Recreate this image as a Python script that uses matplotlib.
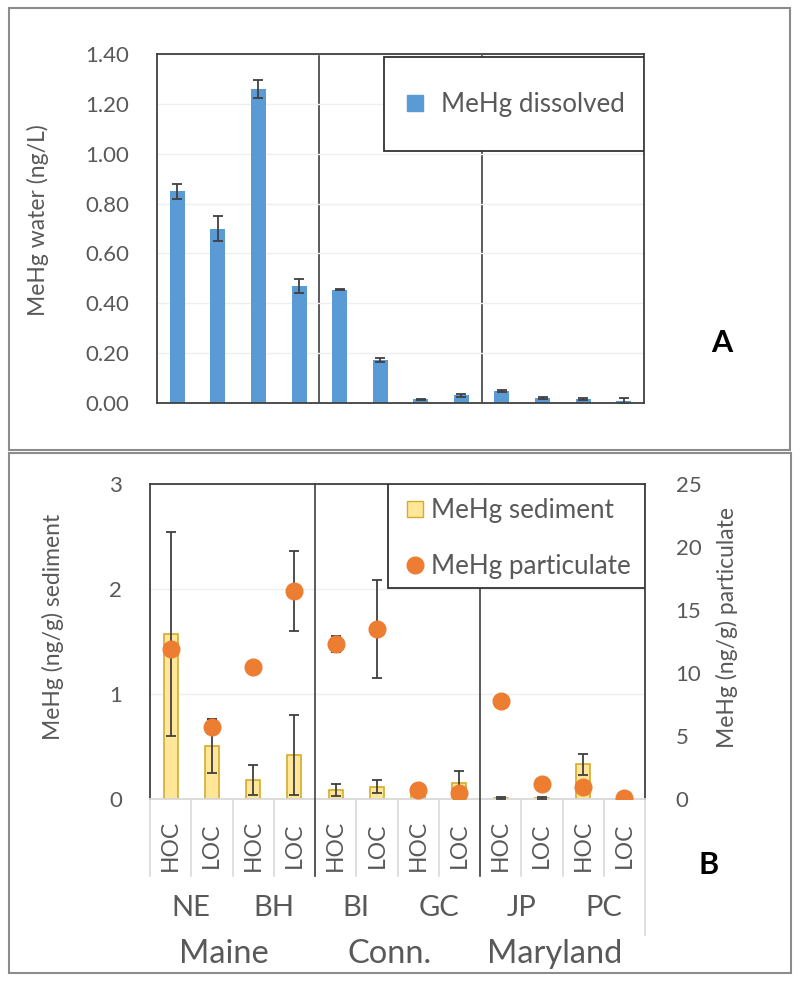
import matplotlib.pyplot as plt
from matplotlib.patches import Rectangle
from matplotlib.lines import Line2D
import numpy as np

plt.rcParams['font.family'] = ['Lato', 'DejaVu Sans']

# panel A - dissolved MeHg in water (ng/L)
dissolved = [0.85, 0.70, 1.26, 0.47, 0.455, 0.172, 0.015, 0.032, 0.048, 0.021, 0.015, 0.008]
dissolved_err = [0.03, 0.05, 0.035, 0.027, 0.003, 0.009, 0.003, 0.006, 0.004, 0.003, 0.004, 0.012]

# panel B - sediment (left axis) and particulate (right axis), ng/g
sediment = [1.57, 0.505, 0.18, 0.42, 0.086, 0.117, 0.08, 0.155, 0.01, 0.01, 0.333, 0.0]
sediment_err = [0.97, 0.26, 0.14, 0.38, 0.055, 0.06, 0.0, 0.11, 0.01, 0.01, 0.10, 0.0]
particulate = [11.9, 5.74, 10.45, 16.5, 12.3, 13.5, 0.71, 0.5, 7.8, 1.17, 0.98, 0.1]
particulate_err = [0, 0.6, 0, 3.2, 0.6, 3.9, 0, 0, 0, 0, 0, 0]

cond_labels = ["HOC", "LOC"] * 6
site_labels = ["NE", "BH", "BI", "GC", "JP", "PC"]
region_labels = ["Maine", "Conn.", "Maryland"]

W, H = 800, 982
fig = plt.figure(figsize=(W / 100, H / 100), dpi=100)

def fx(px):
    return px / W

def fy(py):
    return 1 - py / H

txt = '#595959'
x = np.arange(12)

# outer frames of both panels
for (x0, y0, x1, y1) in [(9, 8, 790, 450), (9, 453, 791, 973)]:
    fig.patches.append(Rectangle((fx(x0), fy(y1)), fx(x1 - x0), (y1 - y0) / H,
                                 transform=fig.transFigure, fill=False,
                                 edgecolor='#8c8c8c', lw=1.5))

# ---------------- panel A ----------------
axA = fig.add_axes([fx(157), fy(403), fx(644 - 157), (403 - 54) / H])
axA.bar(x, dissolved, width=0.37, color='#5B9BD5', zorder=2)
axA.errorbar(x, dissolved, yerr=dissolved_err, fmt='none', ecolor='#404040',
             elinewidth=1.3, capsize=3.5, capthick=1.3, zorder=3)
axA.set_xlim(-0.5, 11.5)
axA.set_ylim(0, 1.40)
axA.set_yticks(np.arange(0, 1.41, 0.2))
axA.set_yticklabels([f"{v:.2f}" for v in np.arange(0, 1.41, 0.2)])
axA.set_xticks([])
axA.tick_params(axis='y', length=0, pad=20, labelsize=16, labelcolor=txt)
axA.grid(axis='y', color='#efefef', lw=1, zorder=0)
for s in axA.spines.values():
    s.set_color('#404040')
    s.set_linewidth(1.3)
for xv in [3.5, 7.5]:
    axA.axvline(xv, color='#404040', lw=1.2, zorder=1)
axA.add_patch(Rectangle((0.466, 0.722), 0.534, 0.269, transform=axA.transAxes,
                        facecolor='white', edgecolor='#333333', lw=1.3, zorder=4))
hA = [Line2D([], [], marker='s', ls='none', color='#5B9BD5', markersize=11)]
legA = axA.legend(hA, ["MeHg dissolved"], loc='center left', frameon=False,
                  bbox_to_anchor=(0.455, 0.855), fontsize=18.7, handlelength=1.0,
                  handletextpad=0.5, labelcolor=txt)
legA.set_zorder(5)
fig.text(fx(38), fy(220), "MeHg water (ng/L)", rotation=90, ha='center',
         va='center', fontsize=16.5, color=txt)
fig.text(fx(722), fy(343), "A", ha='center', va='center', fontsize=22,
         fontweight='bold', color='black')

# ---------------- panel B ----------------
axB = fig.add_axes([fx(150), fy(799), fx(645 - 150), (799 - 484) / H])
axB.bar(x, sediment, width=0.34, color='#FFE699', edgecolor='#D4AC2B', lw=1.2,
        zorder=2)
axB.errorbar(x, sediment, yerr=sediment_err, fmt='none', ecolor='#404040',
             elinewidth=1.3, capsize=3.5, capthick=1.3, zorder=3)
axB.set_xlim(-0.5, 11.5)
axB.set_ylim(0, 3)
axB.set_yticks([0, 1, 2, 3])
axB.set_xticks([])
axB.tick_params(axis='y', length=0, pad=20, labelsize=16, labelcolor=txt)
axB.grid(axis='y', color='#efefef', lw=1, zorder=0)
for s in axB.spines.values():
    s.set_color('#404040')
    s.set_linewidth(1.3)
axB.spines['bottom'].set_color('#d9d9d9')

axB2 = axB.twinx()
axB2.errorbar(x, particulate, yerr=particulate_err, fmt='none', ecolor='#404040',
              elinewidth=1.3, capsize=3.5, capthick=1.3, zorder=2)
axB2.plot(x, particulate, 'o', color='#ED7D31', markersize=12, zorder=3)
axB2.set_ylim(0, 25)
axB2.set_yticks([0, 5, 10, 15, 20, 25])
axB2.tick_params(axis='y', length=0, pad=22, labelsize=16, labelcolor=txt)
for s in axB2.spines.values():
    s.set_visible(False)

tr = axB.get_xaxis_transform()
# category box lines under the axis
for xv in np.arange(-0.5, 11.6, 1.0):
    y_end = -0.432 if xv > 11 else -0.244
    axB.plot([xv, xv], [0, y_end], transform=tr, color='#d9d9d9', lw=1.2,
             clip_on=False)
for xv in [3.5, 7.5]:
    axB2.plot([xv, xv], [1, -0.244], transform=tr, color='#404040', lw=1.2,
              clip_on=False, zorder=1)
for i, lab in enumerate(cond_labels):
    axB.text(i, -0.146, lab, transform=tr, rotation=90, ha='center',
             va='center', fontsize=16.5, color=txt)
for i, lab in enumerate(site_labels):
    axB.text(2 * i + 0.5, -0.346, lab, transform=tr, ha='center', va='center',
             fontsize=21, color=txt)
for i, lab in enumerate(region_labels):
    axB.text(4 * i + 1.3, -0.492, lab, transform=tr, ha='center', va='center',
             fontsize=23.5, color=txt)

axB2.add_patch(Rectangle((0.481, 0.670), 0.519, 0.330, transform=axB2.transAxes,
                         facecolor='white', edgecolor='#333333', lw=1.3, zorder=4))
hB = [Line2D([], [], marker='s', ls='none', markerfacecolor='#FFE699',
             markeredgecolor='#D4AC2B', markersize=12),
      Line2D([], [], marker='o', ls='none', color='#ED7D31', markersize=12)]
legB = axB2.legend(hB, ["MeHg sediment", "MeHg particulate"], loc='center left',
                   frameon=False, bbox_to_anchor=(0.461, 0.828), fontsize=18.7,
                   handlelength=1.0, handletextpad=0.15, labelspacing=1.2,
                   labelcolor=txt)
legB.set_zorder(5)

fig.text(fx(53), fy(627), "MeHg (ng/g) sediment", rotation=90, ha='center',
         va='center', fontsize=16.5, color=txt)
fig.text(fx(727), fy(627), "MeHg (ng/g) particulate", rotation=90, ha='center',
         va='center', fontsize=16.5, color=txt)
fig.text(fx(709), fy(865), "B", ha='center', va='center', fontsize=22,
         fontweight='bold', color='black')

fig.savefig('out.png', dpi=100)
